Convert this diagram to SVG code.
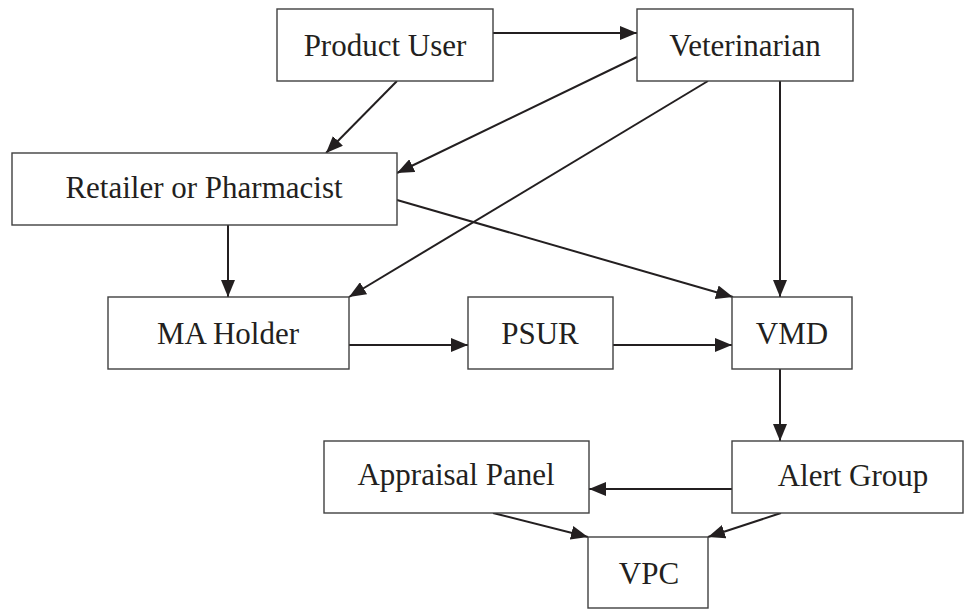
<svg xmlns="http://www.w3.org/2000/svg" width="964" height="609" viewBox="0 0 964 609">
  <defs>
    <marker id="arrow" markerUnits="userSpaceOnUse" markerWidth="17" markerHeight="14" refX="17" refY="7" orient="auto">
      <path d="M0,0 L17,7 L0,14 Z" fill="#231f20"/>
    </marker>
    <style>
      .box { fill: #ffffff; stroke: #404040; stroke-width: 1.4; }
      .label { font-size: 31px; fill: #231f20; text-anchor: middle; }
      .edge { stroke: #231f20; stroke-width: 2; fill: none; marker-end: url(#arrow); }
    </style>
  </defs>
  <rect width="964" height="609" fill="#ffffff"/>

  <g id="connectors">
    <line class="edge" x1="493" y1="33" x2="637" y2="33"/>
    <line class="edge" x1="397" y1="81" x2="326" y2="153"/>
    <line class="edge" x1="637" y1="57" x2="397" y2="173"/>
    <line class="edge" x1="708" y1="81" x2="349" y2="297"/>
    <line class="edge" x1="780" y1="81" x2="780" y2="297"/>
    <line class="edge" x1="397" y1="200" x2="733" y2="297"/>
    <line class="edge" x1="228" y1="225" x2="228" y2="297"/>
    <line class="edge" x1="349" y1="345" x2="468" y2="345"/>
    <line class="edge" x1="613" y1="345" x2="732" y2="345"/>
    <line class="edge" x1="780" y1="369" x2="780" y2="441"/>
    <line class="edge" x1="732" y1="489" x2="589" y2="489"/>
    <line class="edge" x1="493" y1="513" x2="588" y2="537"/>
    <line class="edge" x1="781" y1="513" x2="708" y2="537"/>
  </g>

  <g id="labels-font" font-family="Liberation Serif, Times New Roman, serif">
    <g id="product-user">
      <rect class="box" x="277" y="9" width="216" height="72"/>
      <text class="label" x="385" y="56">Product User</text>
    </g>
    <g id="veterinarian">
      <rect class="box" x="637" y="9" width="216" height="72"/>
      <text class="label" x="745" y="56">Veterinarian</text>
    </g>
    <g id="retailer">
      <rect class="box" x="12" y="153" width="385" height="72"/>
      <text class="label" x="204" y="198">Retailer or Pharmacist</text>
    </g>
    <g id="ma-holder">
      <rect class="box" x="108" y="297" width="241" height="72"/>
      <text class="label" x="228" y="344">MA Holder</text>
    </g>
    <g id="psur">
      <rect class="box" x="468" y="297" width="145" height="72"/>
      <text class="label" x="540" y="344">PSUR</text>
    </g>
    <g id="vmd">
      <rect class="box" x="732" y="297" width="120" height="72"/>
      <text class="label" x="792" y="344">VMD</text>
    </g>
    <g id="appraisal-panel">
      <rect class="box" x="324" y="441" width="265" height="72"/>
      <text class="label" x="456" y="485">Appraisal Panel</text>
    </g>
    <g id="alert-group">
      <rect class="box" x="732" y="441" width="231" height="72"/>
      <text class="label" x="853" y="486">Alert Group</text>
    </g>
    <g id="vpc">
      <rect class="box" x="588" y="537" width="120" height="71"/>
      <text class="label" x="649" y="584">VPC</text>
    </g>
  </g>
</svg>
